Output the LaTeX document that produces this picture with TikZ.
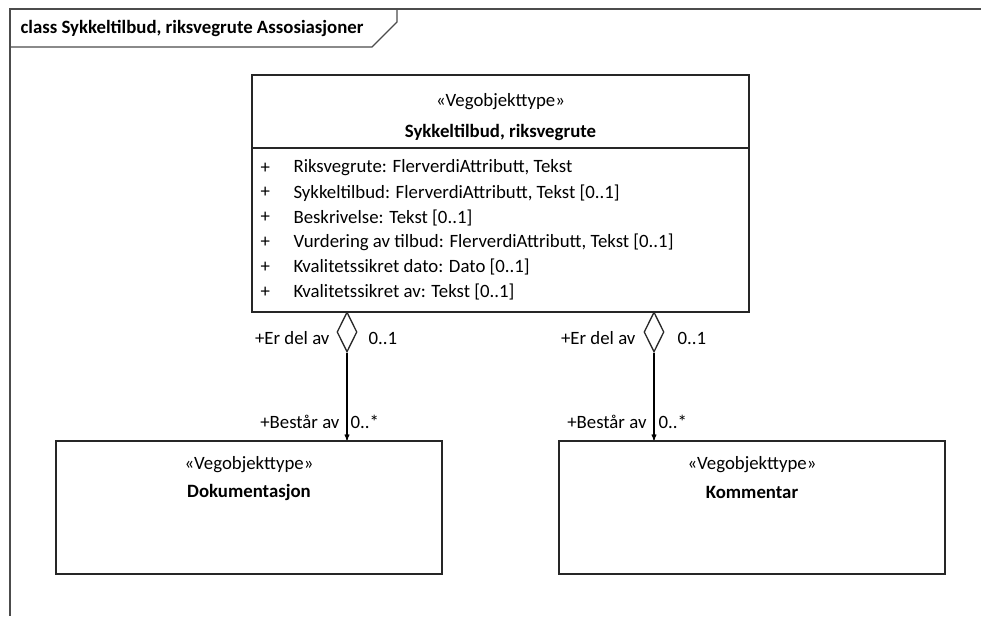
\documentclass[tikz,border=0pt]{standalone}
\usepackage{fontspec}
\setmainfont{Carlito}
\usetikzlibrary{arrows,shapes}
\tikzstyle{frameline} = [draw=black!70, line width=1.3pt]
\tikzstyle{classbox} = [rectangle, draw=black!85, line width=1.6pt, inner sep=0pt]
\tikzstyle{aggr} = [diamond, draw=black!85, fill=white, line width=1.3pt,
    minimum width=20pt, minimum height=40pt, inner sep=0pt]
\tikzstyle{lbl} = [inner sep=1pt]

\begin{document}
\begin{tikzpicture}[x=1pt,y=-1pt,>=stealth',line width=1.1pt,
                    font=\fontsize{18.8}{21}\selectfont]
  \useasboundingbox (0,0) rectangle (981,616);

  % diagram frame
  \draw[frameline] (981,9) -- (10,9) -- (10,616);
  \draw[frameline] (10,47) -- (372,47) -- (397,22) -- (397,9);
  \node[lbl,anchor=west,font=\fontsize{18.8}{21}\selectfont\bfseries] (title) at (19,28)
    {class Sykkeltilbud, riksvegrute Assosiasjoner};

  % main class
  \node[classbox, minimum width=497pt, minimum height=237pt] (main) at (500.5,193.5) {};
  \draw[classbox] (main.west |- 0,148) -- (main.east |- 0,148);
  \node[lbl] (stmain) at (500.5,102) {«Vegobjekttype»};
  \node[lbl,font=\fontsize{18.8}{21}\selectfont\bfseries] (nmmain) at (500.5,132) {Sykkeltilbud, riksvegrute};
  \foreach \t [count=\i from 0] in {{Riksvegrute: FlerverdiAttributt, Tekst},
      {Sykkeltilbud: FlerverdiAttributt, Tekst [0..1]},
      {Beskrivelse: Tekst [0..1]},
      {Vurdering av tilbud: FlerverdiAttributt, Tekst [0..1]},
      {Kvalitetssikret dato: Dato [0..1]},
      {Kvalitetssikret av: Tekst [0..1]}} {
    \node[lbl,anchor=west] (plus\i) at (259,168+24.8*\i) {+};
    \node[lbl,anchor=west] (attr\i) at (292,168+24.8*\i) {\t};
  }

  % part classes
  \node[classbox, minimum width=386pt, minimum height=133pt] (dok) at (249,507.5) {};
  \node[lbl] (stdok) at (249,465) {«Vegobjekttype»};
  \node[lbl,font=\fontsize{18.8}{21}\selectfont\bfseries] (nmdok) at (249,492) {Dokumentasjon};

  \node[classbox, minimum width=386pt, minimum height=133pt] (kom) at (752,507.5) {};
  \node[lbl] (stkom) at (752,465) {«Vegobjekttype»};
  \node[lbl,font=\fontsize{18.8}{21}\selectfont\bfseries] (nmkom) at (752,492) {Kommentar};

  % aggregations
  \node[aggr] (agdok) at (347,332) {};
  \node[aggr] (agkom) at (654,332) {};

  \path (agdok) edge[->] (agdok |- dok.north)
        (agkom) edge[->] (agkom |- kom.north);

  \node[lbl,anchor=east] (rl1) at (331,338) {+Er del av};
  \node[lbl,anchor=west] (ml1) at (367,338) {0..1};
  \node[lbl,anchor=east] (rl2) at (341,422) {+Består av};
  \node[lbl,anchor=west] (ml2) at (349,422) {0..*};

  \node[lbl,anchor=east] (rl3) at (637,338) {+Er del av};
  \node[lbl,anchor=west] (ml3) at (676,338) {0..1};
  \node[lbl,anchor=east] (rl4) at (648,422) {+Består av};
  \node[lbl,anchor=west] (ml4) at (657,422) {0..*};
\end{tikzpicture}
\end{document}
